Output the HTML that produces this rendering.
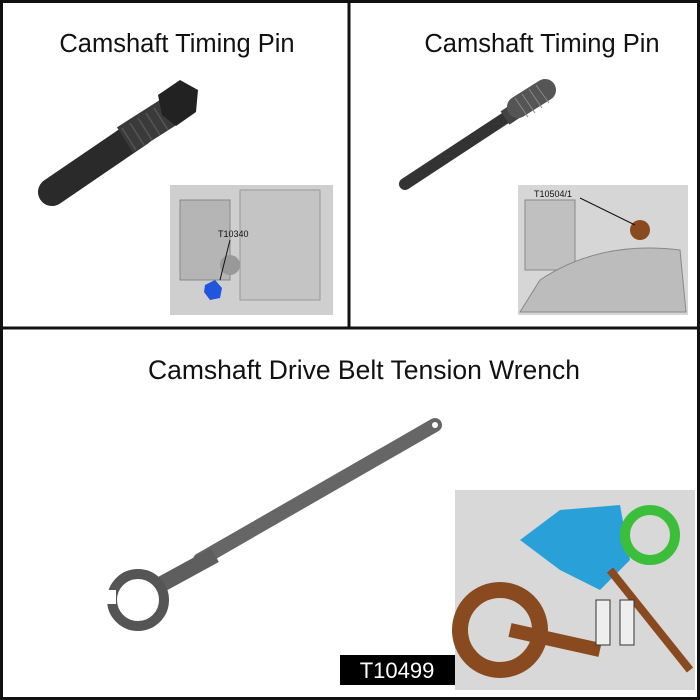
<!DOCTYPE html>
<html><head><style>
body{margin:0;background:#fff}
svg{display:block}
text{font-family:"Liberation Sans",sans-serif}
</style></head><body>
<svg width="700" height="700" viewBox="0 0 700 700">
<rect x="0" y="0" width="700" height="700" fill="#fff"/>
<rect x="1.5" y="1.5" width="697" height="697" fill="none" stroke="#111" stroke-width="3"/>
<line x1="349" y1="0" x2="349" y2="329" stroke="#111" stroke-width="3"/>
<line x1="0" y1="328" x2="700" y2="328" stroke="#111" stroke-width="3"/>
<text x="177" y="52" font-size="25.5" text-anchor="middle" fill="#111">Camshaft Timing Pin</text>
<text x="542" y="52" font-size="25.5" text-anchor="middle" fill="#111">Camshaft Timing Pin</text>
<text x="364" y="379" font-size="26.5" text-anchor="middle" fill="#111">Camshaft Drive Belt Tension Wrench</text>

<!-- pin 1 -->
<line x1="52" y1="192" x2="140" y2="132" stroke="#2a2a2a" stroke-width="28" stroke-linecap="round"/>
<line x1="125" y1="140" x2="172" y2="110" stroke="#3a3a3a" stroke-width="30"/>
<g stroke="#555" stroke-width="1.5">
<line x1="122" y1="128" x2="136" y2="150"/><line x1="130" y1="123" x2="144" y2="145"/><line x1="138" y1="118" x2="152" y2="140"/><line x1="146" y1="113" x2="160" y2="135"/><line x1="154" y1="108" x2="168" y2="130"/>
</g>
<polygon points="158,95 180,80 198,90 196,112 176,126 162,115" fill="#222"/>
<rect x="170" y="185" width="163" height="130" fill="#cfcfcf"/>
<rect x="180" y="200" width="50" height="80" fill="#b5b5b5" stroke="#888"/>
<rect x="240" y="190" width="80" height="110" fill="#c4c4c4" stroke="#999"/>
<circle cx="230" cy="265" r="10" fill="#999"/>
<polygon points="205,285 215,280 222,288 220,298 210,300 204,292" fill="#2255dd"/>
<text x="218" y="237" font-size="9" fill="#111">T10340</text>
<line x1="230" y1="240" x2="220" y2="280" stroke="#111"/>

<!-- pin 2 -->
<line x1="405" y1="184" x2="510" y2="115" stroke="#333" stroke-width="12" stroke-linecap="round"/>
<line x1="505" y1="118" x2="520" y2="108" stroke="#444" stroke-width="16"/>
<line x1="518" y1="107" x2="545" y2="90" stroke="#555" stroke-width="22" stroke-linecap="round"/>
<g stroke="#888" stroke-width="1"><line x1="515" y1="98" x2="528" y2="117"/><line x1="522" y1="94" x2="535" y2="113"/><line x1="529" y1="89" x2="542" y2="108"/><line x1="536" y1="85" x2="549" y2="103"/></g>
<rect x="518" y="185" width="170" height="130" fill="#d6d6d6"/>
<rect x="525" y="200" width="50" height="70" fill="#c0c0c0" stroke="#888"/>
<path d="M540 280 Q600 240 680 250 L686 312 L520 312 Z" fill="#bcbcbc" stroke="#888"/>
<circle cx="640" cy="230" r="10" fill="#8a4a20"/>
<text x="534" y="197" font-size="9" fill="#111">T10504/1</text>
<line x1="580" y1="198" x2="635" y2="225" stroke="#111"/>

<!-- wrench -->
<line x1="200" y1="560" x2="435" y2="425" stroke="#666" stroke-width="14" stroke-linecap="round"/>
<line x1="160" y1="585" x2="215" y2="555" stroke="#5e5e5e" stroke-width="16"/>
<circle cx="138" cy="600" r="26" fill="none" stroke="#555" stroke-width="10"/>
<rect x="100" y="590" width="16" height="14" fill="#fff"/>
<circle cx="435" cy="425" r="3" fill="#fff"/>
<rect x="455" y="490" width="240" height="200" fill="#d8d8d8"/>
<polygon points="520,540 560,510 620,505 630,560 600,590 560,570" fill="#2aa0d8"/>
<circle cx="650" cy="535" r="25" fill="none" stroke="#3bbf3b" stroke-width="10"/>
<circle cx="500" cy="630" r="40" fill="none" stroke="#8a4a20" stroke-width="16"/>
<line x1="510" y1="630" x2="600" y2="650" stroke="#8a4a20" stroke-width="14"/>
<line x1="610" y1="570" x2="690" y2="670" stroke="#8a4a20" stroke-width="8"/>
<rect x="596" y="600" width="14" height="45" fill="#eee" stroke="#333"/>
<rect x="620" y="600" width="14" height="45" fill="#eee" stroke="#333"/>
<rect x="340" y="655" width="115" height="30" fill="#000"/>
<text x="397" y="678" font-size="22" text-anchor="middle" fill="#fff">T10499</text>
</svg>
</body></html>
